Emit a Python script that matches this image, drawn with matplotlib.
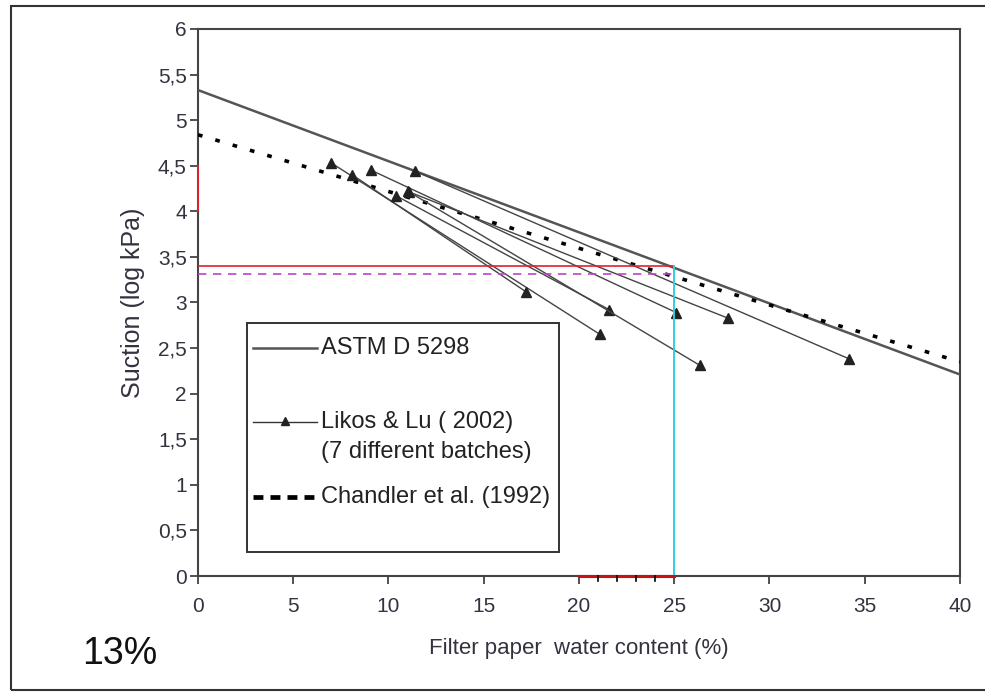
import matplotlib
matplotlib.use("Agg")
import matplotlib.pyplot as plt
from matplotlib.patches import Rectangle
from matplotlib.ticker import FuncFormatter

plt.rcParams["font.family"] = ["Liberation Sans", "DejaVu Sans"]

# calibration lines, water content (%) -> suction (log kPa)
astm_w = [0, 40]
astm_s = [5.33, 2.21]
chandler_w = [0, 40]
chandler_s = [4.84, 2.35]

# Likos & Lu (2002), 7 batches: start / end points
likos_w0 = [7.0, 8.1, 9.1, 11.4, 10.4, 11.1, 11.0]
likos_s0 = [4.53, 4.40, 4.45, 4.44, 4.17, 4.21, 4.22]
likos_w1 = [21.1, 17.2, 25.1, 34.2, 21.6, 26.35, 27.8]
likos_s1 = [2.65, 3.12, 2.89, 2.38, 2.92, 2.31, 2.83]

# reading guides
w_read = 25
s_astm_read = 3.40
s_chandler_read = 3.31

xticks = list(range(0, 45, 5))
yticks = [i * 0.5 for i in range(13)]

fig = plt.figure(figsize=(9.85, 6.93), dpi=100)
ax = fig.add_axes([0.201, 0.1688, 0.7736, 0.7894])

# outer frame of the picture
fig.patches.append(Rectangle((0.011, 0.004), 1.2, 0.987, transform=fig.transFigure,
                             fill=False, ec="#333333", lw=1.5))

ax.plot(astm_w, astm_s, c="#555555", lw=1.8, zorder=3)
ax.plot(chandler_w, chandler_s, c="black", lw=2.6, ls=(0, (1.3, 3.7)), zorder=3)
for w0, s0, w1, s1 in zip(likos_w0, likos_s0, likos_w1, likos_s1):
    ax.plot([w0, w1], [s0, s1], c="#444444", lw=1.0, marker="^", ms=7,
            mfc="#222222", mec="#222222", zorder=4)

ax.plot([0, w_read], [s_astm_read, s_astm_read], c="#e0202a", lw=1.2, zorder=5)
ax.plot([0, w_read], [s_chandler_read, s_chandler_read], c="#c040d0", lw=1.2,
        ls=(0, (5, 4)), zorder=5)
ax.plot([w_read, w_read], [0, s_astm_read], c="#30d0e0", lw=1.4, zorder=5)

# red marks along the axes
ax.plot([20, 25], [0, 0], c="#cc1010", lw=2.2, clip_on=False, zorder=6)
for w in range(21, 25):
    ax.plot([w, w], [0, -0.06], c="black", lw=1.2, clip_on=False, zorder=7)
ax.plot([0, 0], [4.0, 4.5], c="#e02030", lw=1.4, clip_on=False, zorder=6)

ax.set_xlim(0, 40)
ax.set_ylim(0, 6)
ax.set_xticks(xticks)
ax.set_yticks(yticks)
ax.yaxis.set_major_formatter(FuncFormatter(lambda v, p: f"{v:g}".replace(".", ",")))
ax.tick_params(direction="out", length=6, width=1.2, labelsize=15,
               labelcolor="#333340", color="#333333")
ax.tick_params(axis="x", pad=9)
ax.tick_params(axis="y", pad=2)
for sp in ax.spines.values():
    sp.set_linewidth(1.5)
    sp.set_color("#444444")

ax.set_xlabel("Filter paper  water content (%)", fontsize=16, color="#333340",
              labelpad=16)
ax.set_ylabel("Suction (log kPa)", fontsize=18, color="#333340", labelpad=9)

# legend drawn as a box in data coordinates
ax.add_patch(Rectangle((2.57, 0.26), 16.4, 2.51, fill=False, ec="#333333",
                       lw=1.4, zorder=8))
ax.plot([2.89, 6.25], [2.50, 2.50], c="#555555", lw=1.8, zorder=9)
ax.text(6.45, 2.50, "ASTM D 5298", fontsize=17, va="center", color="#222222", zorder=9)
ax.plot([2.89, 6.25], [1.69, 1.69], c="#333333", lw=1.0, zorder=9)
ax.plot([4.57], [1.70], marker="^", ms=6, c="#222222", zorder=9)
ax.text(6.45, 1.69, "Likos & Lu ( 2002)", fontsize=17, va="center", color="#222222", zorder=9)
ax.text(6.45, 1.36, "(7 different batches)", fontsize=17, va="center", color="#222222", zorder=9)
ax.plot([2.89, 6.3], [0.87, 0.87], c="black", lw=3.4, ls=(0, (2.1, 1.5)), zorder=9)
ax.text(6.45, 0.87, "Chandler et al. (1992)", fontsize=17, va="center", color="#222222", zorder=9)

fig.text(0.083, 0.042, "13%", fontsize=27, color="#111111")

fig.savefig("out.png", dpi=100)
